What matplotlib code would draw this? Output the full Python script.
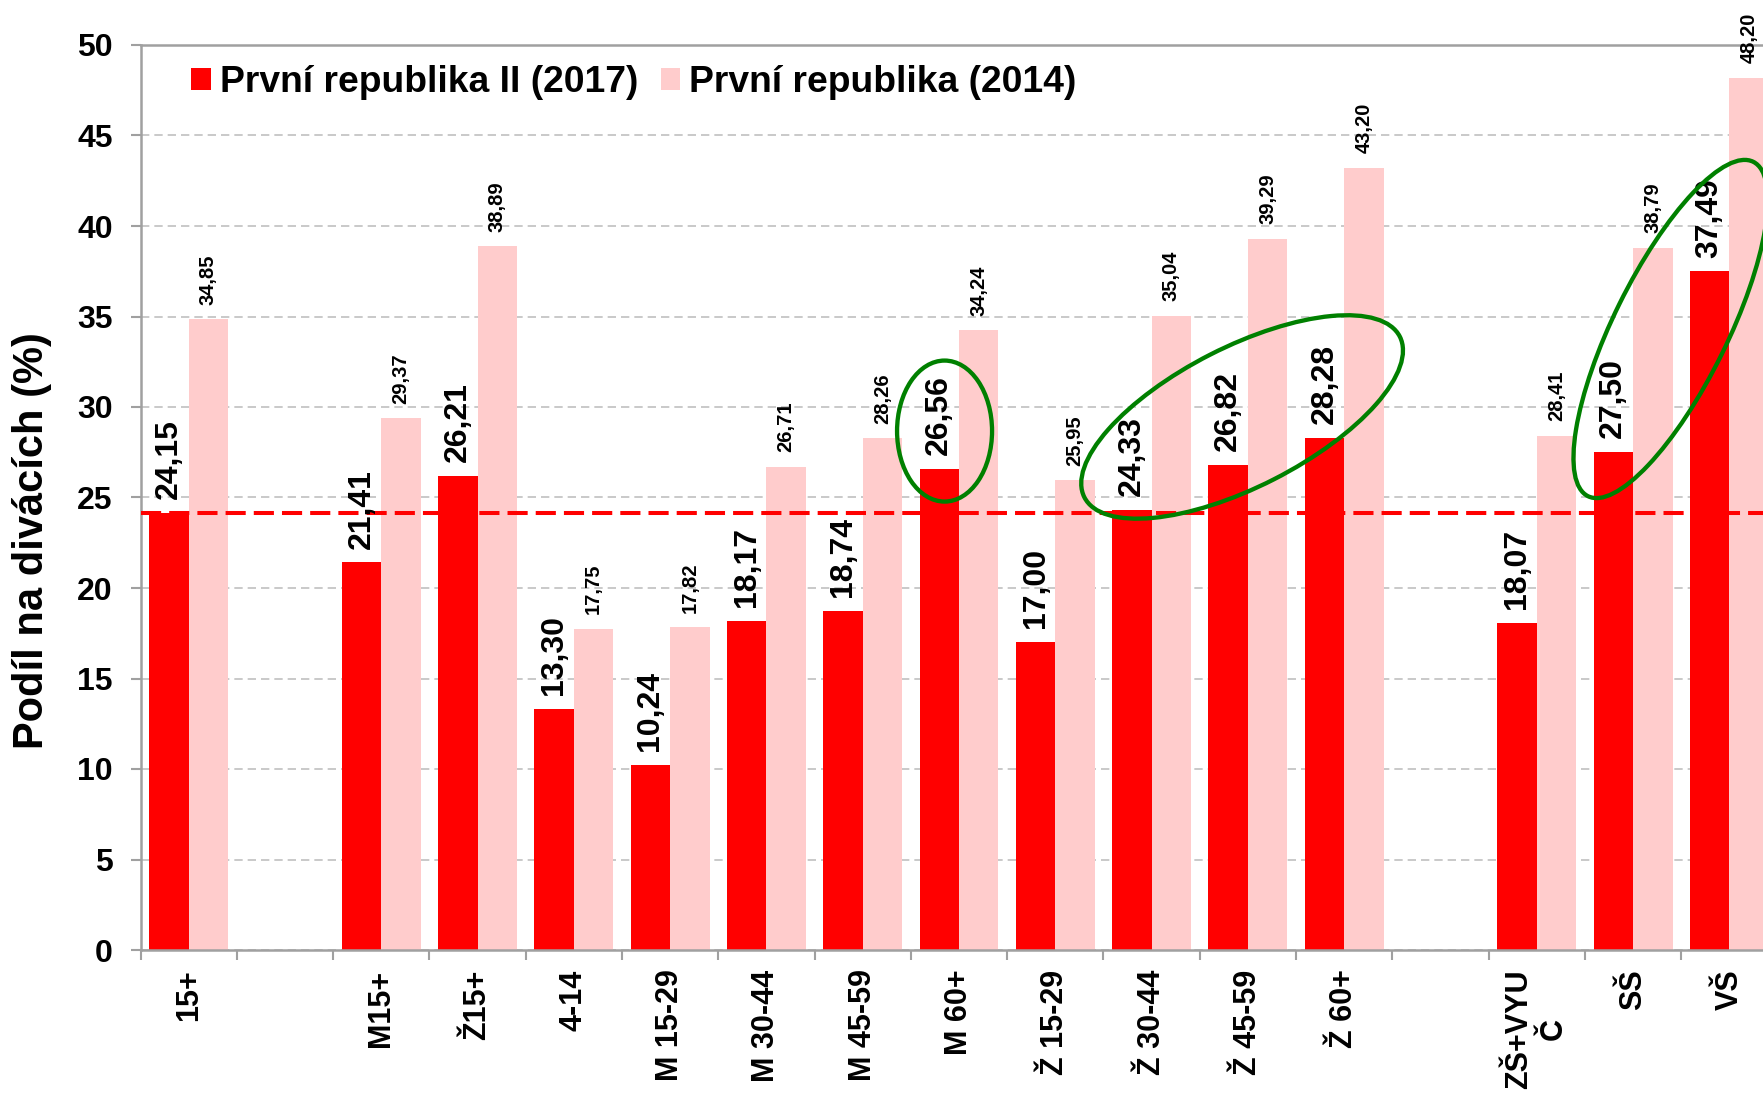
import numpy as np
import matplotlib
matplotlib.use("Agg")
import matplotlib.pyplot as plt
from matplotlib.patches import Ellipse
from matplotlib.transforms import IdentityTransform

plt.rcParams["font.family"] = ["Liberation Sans", "DejaVu Sans"]
plt.rcParams["font.weight"] = "bold"

categories = ["15+", "", "M15+", "Ž15+", "4-14", "M 15-29", "M 30-44",
              "M 45-59", "M 60+", "Ž 15-29", "Ž 30-44", "Ž 45-59",
              "Ž 60+", "", "ZŠ+VYU\nČ", "SŠ", "VŠ"]
share_2017 = [24.15, np.nan, 21.41, 26.21, 13.30, 10.24, 18.17, 18.74, 26.56,
              17.00, 24.33, 26.82, 28.28, np.nan, 18.07, 27.50, 37.49]
share_2014 = [34.85, np.nan, 29.37, 38.89, 17.75, 17.82, 26.71, 28.26, 34.24,
              25.95, 35.04, 39.29, 43.20, np.nan, 28.41, 38.79, 48.20]
label_2017 = "První republika II (2017)"
label_2014 = "První republika (2014)"

RED = "#ff0000"
PINK = "#ffcccc"
GREEN = "#008000"

W, H = 1763, 1095
fig = plt.figure(figsize=(W / 100, H / 100), dpi=100)
# axes run slightly past the right edge, as in the original
ax = fig.add_axes([140.5 / W, 145 / H, 1637 / W, 905 / H])

x = np.arange(len(categories))
bw = 0.41
ax.bar(x - bw / 2, share_2017, bw, color=RED, label=label_2017, zorder=2)
ax.bar(x + bw / 2, share_2014, bw, color=PINK, label=label_2014, zorder=2)

ax.axhline(share_2017[0], color=RED, lw=2.9, dashes=(5, 2), zorder=3)

for i in range(len(categories)):
    if not np.isnan(share_2017[i]):
        ax.annotate(f"{share_2017[i]:.2f}".replace(".", ","), (x[i] - bw / 2, share_2017[i]),
                    xytext=(0, 10), textcoords="offset points", rotation=90,
                    ha="center", va="bottom", fontsize=23, annotation_clip=False)
        ax.annotate(f"{share_2014[i]:.2f}".replace(".", ","), (x[i] + bw / 2, share_2014[i]),
                    xytext=(0, 10.5), textcoords="offset points", rotation=90,
                    ha="center", va="bottom", fontsize=14.5, annotation_clip=False)

ax.set_xlim(-0.5, len(categories) - 0.5)
ax.set_ylim(0, 50)
ax.set_yticks(range(0, 51, 5))
ax.tick_params(axis="y", labelsize=23, length=7, width=1.5, color="#a0a0a0", pad=13)
ax.set_xticks(x)
ax.set_xticklabels(categories, rotation=90, fontsize=22, multialignment="center")
ax.set_xticks(np.arange(-0.5, len(categories)), minor=True)
ax.tick_params(axis="x", which="major", length=0, pad=14)
ax.tick_params(axis="x", which="minor", length=7, width=1.5, color="#a0a0a0")
ax.set_ylabel("Podíl na divácích (%)", fontsize=30, fontweight="bold")
ax.yaxis.set_label_coords(-0.054, 0.452)

ax.yaxis.grid(True, color="#c0c0c0", lw=1.2, dashes=(5, 3))
ax.set_axisbelow(True)
for side in ["left", "bottom", "top"]:
    ax.spines[side].set_color("#a0a0a0")
    ax.spines[side].set_linewidth(1.8)
ax.spines["right"].set_visible(False)

ax.legend(loc="upper left", bbox_to_anchor=(0.031, 0.978), ncol=2, frameon=False,
          fontsize=26.8, handlelength=0.52, handleheight=0.52, handletextpad=0.25,
          columnspacing=0.6, borderpad=0, borderaxespad=0)

# green highlight ellipses (center in data units, size in pixels)
rings = [(7.85, 28.67, 95, 141, 0), (10.94, 29.45, 354, 140, 27),
         (15.39, 34.31, 373, 114, 63.7)]
for cx, cy, ew, eh, ang in rings:
    px, py = ax.transData.transform((cx, cy))
    fig.add_artist(Ellipse((px, py), ew, eh, angle=ang, transform=IdentityTransform(),
                           fill=False, edgecolor=GREEN, lw=3.1, zorder=5))

fig.savefig("out.png", dpi=100)
